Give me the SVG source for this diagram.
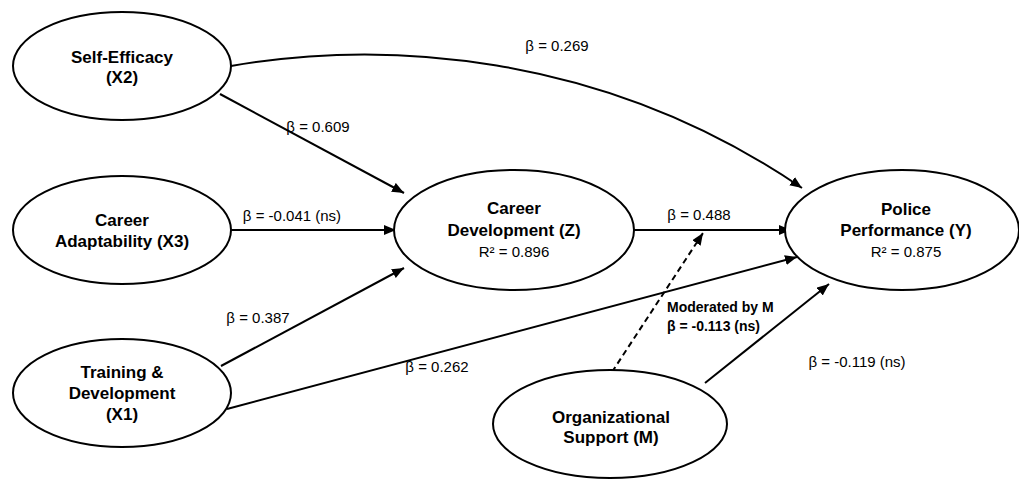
<svg xmlns="http://www.w3.org/2000/svg" width="1019" height="479" viewBox="0 0 1019 479">
  <style>
    .node ellipse { fill: #ffffff; stroke: #000000; stroke-width: 2; }
    .nl { font-family: "Liberation Sans", Arial, sans-serif; font-size: 17px; font-weight: bold; fill: #000000; text-anchor: middle; }
    .r2 { font-family: "Liberation Sans", Arial, sans-serif; font-size: 15px; fill: #000000; text-anchor: middle; }
    .el { font-family: "Liberation Sans", Arial, sans-serif; font-size: 15px; fill: #000000; text-anchor: middle; }
    .mod { font-family: "Liberation Sans", Arial, sans-serif; font-size: 14px; font-weight: bold; fill: #000000; }
    .edge { fill: none; stroke: #000000; stroke-width: 2; marker-end: url(#arrow); }
    .dash { stroke-dasharray: 6 4; }
  </style>
  <defs>
    <marker id="arrow" markerUnits="userSpaceOnUse" markerWidth="14" markerHeight="12" refX="12" refY="5" orient="auto">
      <path d="M0,0 L12,5 L0,10 z" fill="#000000"/>
    </marker>
  </defs>
  <rect x="0" y="0" width="1019" height="479" fill="#ffffff"/>

  <g id="connectors">
    <path class="edge" d="M231,66 C380,40 600,50 802,188"/>
    <path class="edge" d="M220,94 L404,193"/>
    <path class="edge" d="M231,230 L396,230"/>
    <path class="edge" d="M221,366 L404,268"/>
    <path class="edge" d="M227,409 L797,257"/>
    <path class="edge" d="M634,230 L791,230"/>
    <path class="edge dash" d="M612,372 L703,233"/>
    <path class="edge" d="M705,383 L829,284"/>
    <text class="el" x="557" y="51">β = 0.269</text>
    <text class="el" x="318" y="132">β = 0.609</text>
    <text class="el" x="292" y="221">β = -0.041 (ns)</text>
    <text class="el" x="258" y="323">β = 0.387</text>
    <text class="el" x="437" y="372">β = 0.262</text>
    <text class="el" x="699" y="220">β = 0.488</text>
    <text class="el" x="857" y="367">β = -0.119 (ns)</text>
    <text class="mod" x="667" y="312">Moderated by M</text>
    <text class="mod" x="667" y="331">β = -0.113 (ns)</text>
  </g>

  <g id="node-x2" class="node">
    <ellipse cx="122" cy="66" rx="109" ry="54"/>
    <text class="nl" x="122" y="62.5">Self-Efficacy</text>
    <text class="nl" x="122" y="83">(X2)</text>
  </g>
  <g id="node-x3" class="node">
    <ellipse cx="122" cy="230" rx="109" ry="54"/>
    <text class="nl" x="122" y="226">Career</text>
    <text class="nl" x="122" y="247">Adaptability (X3)</text>
  </g>
  <g id="node-x1" class="node">
    <ellipse cx="122" cy="393" rx="109" ry="54"/>
    <text class="nl" x="122" y="378">Training &amp;</text>
    <text class="nl" x="122" y="399">Development</text>
    <text class="nl" x="122" y="420">(X1)</text>
  </g>
  <g id="node-z" class="node">
    <ellipse cx="514" cy="230" rx="120" ry="60"/>
    <text class="nl" x="514" y="214">Career</text>
    <text class="nl" x="514" y="235.5">Development (Z)</text>
    <text class="r2" x="514" y="257">R² = 0.896</text>
  </g>
  <g id="node-y" class="node">
    <ellipse cx="902" cy="230" rx="117" ry="60"/>
    <text class="nl" x="906" y="215">Police</text>
    <text class="nl" x="906" y="236">Performance (Y)</text>
    <text class="r2" x="906" y="257">R² = 0.875</text>
  </g>
  <g id="node-m" class="node">
    <ellipse cx="610" cy="424" rx="117" ry="54"/>
    <text class="nl" x="611" y="423">Organizational</text>
    <text class="nl" x="611" y="443">Support (M)</text>
  </g>
</svg>
